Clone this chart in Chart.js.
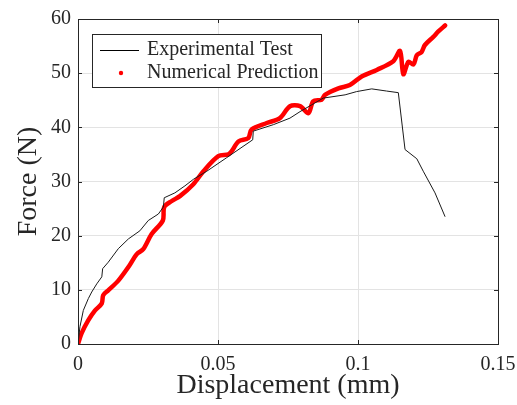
<!DOCTYPE html>
<html lang="en">
  <head>
    <meta charset="UTF-8" />
    <title>Force vs Displacement</title>
    <script src="https://cdn.jsdelivr.net/npm/chart.js"></script>
    <style>
      body {
        margin: 0;
        background: #fff;
      }
      #wrap {
        width: 517px;
        height: 405px;
      }
    </style>
  </head>
  <body>
    <div id="wrap"><canvas id="forceChart"></canvas></div>

    <script>
      // Experimental test (black line)
      const expX = [
        0, 0.0007, 0.0019, 0.0037, 0.0049, 0.0067, 0.0085, 0.0088, 0.0108,
        0.0144, 0.018, 0.0221, 0.0251, 0.0287, 0.0305, 0.0308, 0.0346, 0.0382,
        0.0412, 0.046, 0.0531, 0.0624, 0.0626, 0.0698, 0.0757, 0.0793, 0.0876,
        0.0954, 0.0995, 0.1049, 0.1102, 0.1144, 0.1168, 0.121, 0.1233, 0.1275,
        0.1311,
      ];
      const expY = [
        0, 3.2, 6.2, 8.4, 9.6, 11.1, 12.4, 13.9, 15.1, 17.6, 19.4, 20.9, 22.8,
        24.0, 25.3, 27.0, 27.9, 29.2, 30.4, 31.9, 34.4, 37.7, 39.3, 40.5, 41.7,
        42.9, 45.4, 46.0, 46.6, 47.1, 46.7, 46.4, 35.9, 34.2, 31.9, 27.9, 23.5,
      ];

      // Numerical prediction (red)
      const numX = [
        0, 0.0013, 0.0037, 0.0061, 0.0085, 0.009, 0.0108, 0.0144, 0.018, 0.021,
        0.0233, 0.0263, 0.0303, 0.0308, 0.0335, 0.0364, 0.0412, 0.0448, 0.0501,
        0.0537, 0.0549, 0.0573, 0.0608, 0.062, 0.0674, 0.0721, 0.0757, 0.0793,
        0.0823, 0.084, 0.087, 0.0882, 0.093, 0.0971, 0.1013, 0.1067, 0.1126,
        0.115, 0.1162, 0.118, 0.1198, 0.121, 0.1227, 0.1239, 0.1269, 0.1287,
        0.1311,
      ];
      const numY = [
        0, 2.0, 4.4, 6.2, 7.5, 9.0, 9.9, 11.7, 14.2, 16.6, 17.5, 20.3, 22.8,
        25.3, 26.4, 27.3, 29.5, 31.9, 34.7, 35.0, 35.6, 37.4, 38.0, 39.6, 40.8,
        41.7, 43.9, 43.9, 42.6, 44.8, 45.1, 46.0, 47.2, 47.8, 49.4, 50.6, 52.2,
        54.1, 49.8, 52.1, 51.6, 53.3, 53.9, 55.2, 56.7, 57.7, 58.8,
      ];

      const xTicks = [0, 0.05, 0.1, 0.15];
      const yTicks = [0, 10, 20, 30, 40, 50, 60];
      const seriesNames = ["Experimental Test", "Numerical Prediction"];

      const serif = "'Liberation Serif', 'Times New Roman', serif";
      const axisColor = "#262626";

      function toPoints(xs, ys) {
        return xs.map((x, i) => ({ x: x, y: ys[i] }));
      }

      // inward ticks, box and legend drawn like the matlab figure
      const frameAndLegend = {
        id: "frameAndLegend",
        afterDraw(chart) {
          const ctx = chart.ctx;
          const a = chart.chartArea;
          const xs = chart.scales.x;
          const ys = chart.scales.y;
          ctx.save();
          ctx.strokeStyle = axisColor;
          ctx.lineWidth = 1;
          ctx.beginPath();
          xTicks.forEach((t) => {
            const px = Math.round(xs.getPixelForValue(t)) + 0.5;
            ctx.moveTo(px, a.bottom);
            ctx.lineTo(px, a.bottom - 4);
            ctx.moveTo(px, a.top);
            ctx.lineTo(px, a.top + 4);
          });
          yTicks.forEach((t) => {
            const py = Math.round(ys.getPixelForValue(t)) + 0.5;
            ctx.moveTo(a.left, py);
            ctx.lineTo(a.left + 4, py);
            ctx.moveTo(a.right, py);
            ctx.lineTo(a.right - 4, py);
          });
          ctx.stroke();
          ctx.strokeRect(
            Math.round(a.left) + 0.5,
            Math.round(a.top) + 0.5,
            Math.round(a.right - a.left),
            Math.round(a.bottom - a.top)
          );

          // legend box
          const bx = a.left + 14;
          const by = a.top + 15;
          const bw = 229;
          const bh = 53;
          ctx.fillStyle = "#fff";
          ctx.fillRect(bx, by, bw, bh);
          ctx.strokeStyle = axisColor;
          ctx.strokeRect(bx + 0.5, by + 0.5, bw, bh);

          ctx.strokeStyle = "#000";
          ctx.beginPath();
          ctx.moveTo(bx + 8, by + 16.5);
          ctx.lineTo(bx + 47, by + 16.5);
          ctx.stroke();

          ctx.fillStyle = "#ff0000";
          ctx.beginPath();
          ctx.arc(bx + 29, by + 39, 2.2, 0, Math.PI * 2);
          ctx.fill();

          ctx.fillStyle = axisColor;
          ctx.font = "20px " + serif;
          ctx.textBaseline = "middle";
          ctx.textAlign = "left";
          ctx.fillText(seriesNames[0], bx + 55, by + 16);
          ctx.fillText(seriesNames[1], bx + 55, by + 39);
          ctx.restore();
        },
      };

      const ctx = document.getElementById("forceChart").getContext("2d");
      new Chart(ctx, {
        type: "line",
        data: {
          datasets: [
            {
              label: seriesNames[0],
              data: toPoints(expX, expY),
              borderColor: "#1a1a1a",
              borderWidth: 1,
              pointRadius: 0,
              tension: 0,
              fill: false,
            },
            {
              label: seriesNames[1],
              data: toPoints(numX, numY),
              borderColor: "#ff0000",
              borderWidth: 4.5,
              borderJoinStyle: "round",
              borderCapStyle: "round",
              pointRadius: 0,
              tension: 0.3,
              fill: false,
            },
          ],
        },
        options: {
          responsive: true,
          maintainAspectRatio: false,
          animation: false,
          layout: { padding: { top: 17, right: 19, left: 0, bottom: 0 } },
          plugins: {
            legend: { display: false },
            tooltip: { enabled: false },
          },
          scales: {
            x: {
              type: "linear",
              min: 0,
              max: 0.15,
              afterBuildTicks: (s) => {
                s.ticks = xTicks.map((v) => ({ value: v }));
              },
              afterFit: (s) => {
                s.height = 61;
                s.paddingLeft = 0;
                s.paddingRight = 0;
              },
              border: { display: false },
              grid: { color: "#e3e3e3", drawTicks: false },
              ticks: {
                padding: 9,
                maxRotation: 0,
                color: axisColor,
                font: { family: serif, size: 20 },
                callback: (v) => String(v),
              },
              title: {
                display: true,
                text: "Displacement (mm)",
                color: axisColor,
                padding: 3,
                font: { family: serif, size: 28 },
              },
            },
            y: {
              min: 0,
              max: 60,
              afterBuildTicks: (s) => {
                s.ticks = yTicks.map((v) => ({ value: v }));
              },
              afterFit: (s) => {
                s.width = 78;
              },
              border: { display: false },
              grid: { color: "#e3e3e3", drawTicks: false },
              ticks: {
                padding: 7,
                color: axisColor,
                font: { family: serif, size: 20 },
              },
              title: {
                display: true,
                text: "Force (N)",
                color: axisColor,
                padding: 12,
                font: { family: serif, size: 28 },
              },
            },
          },
        },
        plugins: [frameAndLegend],
      });
    </script>
  </body>
</html>
